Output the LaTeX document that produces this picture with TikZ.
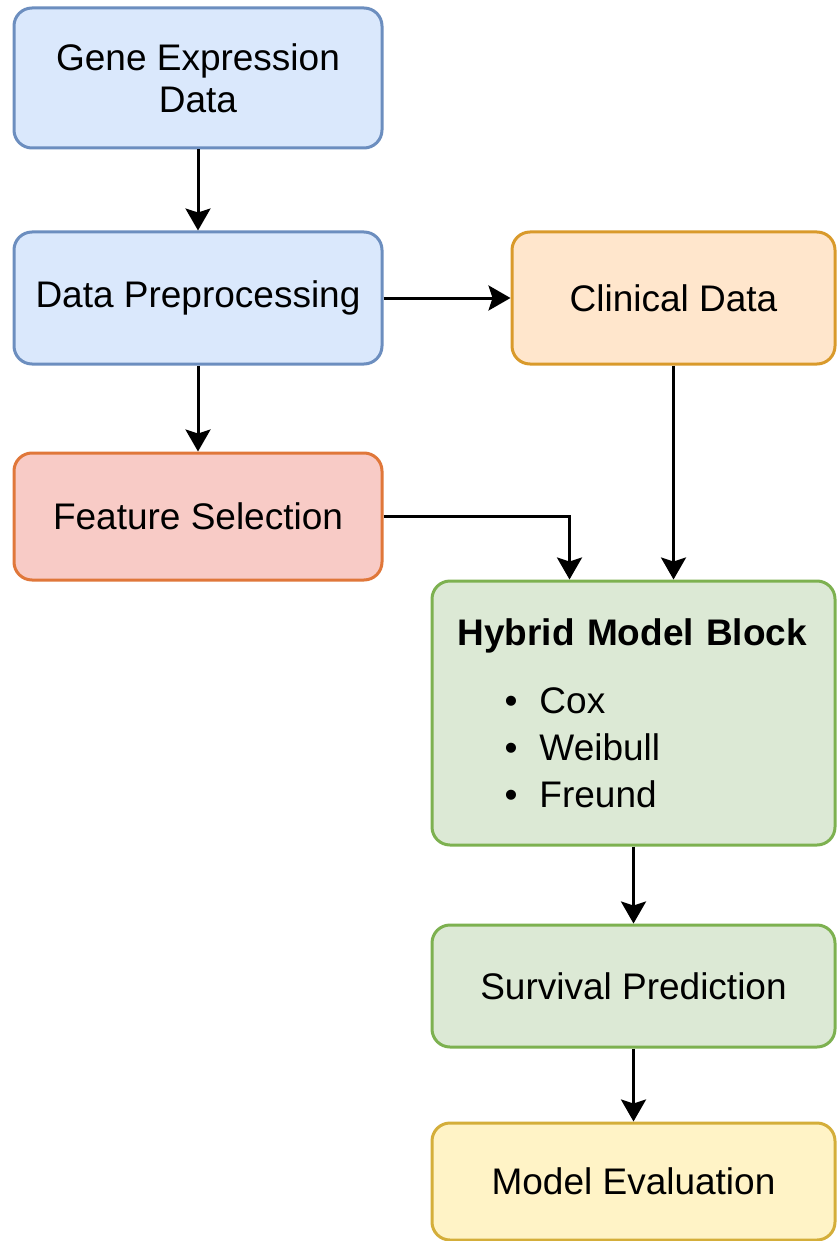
\documentclass[tikz,border=0pt]{standalone}
\usepackage{fontspec}
\setmainfont{Liberation Sans}
\usetikzlibrary{arrows.meta,positioning}
\definecolor{FlowBlue}{HTML}{DAE8FC}
\definecolor{FlowBlueLine}{HTML}{6C8EBF}
\definecolor{FlowOrange}{HTML}{FFE6CC}
\definecolor{FlowOrangeLine}{HTML}{D99A2B}
\definecolor{FlowRed}{HTML}{F8CBC6}
\definecolor{FlowRedLine}{HTML}{E0773A}
\definecolor{FlowGreen}{HTML}{DCE9D5}
\definecolor{FlowGreenLine}{HTML}{7DB150}
\definecolor{FlowYellow}{HTML}{FFF3C6}
\definecolor{FlowYellowLine}{HTML}{D4AE3A}

\begin{document}
\begin{tikzpicture}[font=\fontsize{18.5}{21}\selectfont,
  b/.style={draw,line width=1.5pt,rounded corners=9pt,align=center,inner sep=0pt,minimum width=184pt},
  bluebox/.style={b,draw=FlowBlueLine,fill=FlowBlue},
  orangebox/.style={b,draw=FlowOrangeLine,fill=FlowOrange},
  redbox/.style={b,draw=FlowRedLine,fill=FlowRed},
  greenbox/.style={b,draw=FlowGreenLine,fill=FlowGreen,minimum width=201.5pt},
  yellowbox/.style={b,draw=FlowYellowLine,fill=FlowYellow,minimum width=201.5pt},
  a/.style={-{Stealth[length=11pt,width=12.5pt,inset=2pt]},line width=1.5pt}]
  \useasboundingbox[fill=white] (0,0) rectangle (418pt,-620.5pt);
  \node[bluebox,minimum height=70pt,anchor=north west] (g) at (6.25pt,-3.25pt) {Gene Expression\\Data};
  \node[bluebox,minimum height=66pt,below=40.5pt of g] (dp) {Data Preprocessing};
  \node[redbox,minimum height=63.5pt,below=43pt of dp] (fs) {Feature Selection};
  \node[orangebox,minimum width=161.5pt,minimum height=66pt,right=63.5pt of dp] (cd) {Clinical Data};
  \node[greenbox,minimum height=132pt,text width=176pt,inner xsep=12.75pt,align=left,
    font=\fontsize{18.5}{23.5}\selectfont,below=107pt of cd.south east,anchor=north east] (hm)
    {\textbf{Hybrid Model Block}\\[10.5pt]
     \hspace*{23.5pt}\makebox[17.5pt][l]{\textbullet}Cox\\
     \hspace*{23.5pt}\makebox[17.5pt][l]{\textbullet}Weibull\\
     \hspace*{23.5pt}\makebox[17.5pt][l]{\textbullet}Freund};
  \node[greenbox,minimum height=61pt,below=38.5pt of hm] (sp) {Survival Prediction};
  \node[yellowbox,minimum height=58.5pt,below=36.5pt of sp] (me) {Model Evaluation};
  \draw[a] (g) -- (dp);
  \draw[a] (dp) -- (fs);
  \draw[a] (dp) -- (cd);
  \draw[a] (fs.east) -| ([xshift=69.5pt]hm.north west);
  \draw[a] (cd.south) -- (cd.south |- hm.north);
  \draw[a] (hm) -- (sp);
  \draw[a] (sp) -- (me);
\end{tikzpicture}
\end{document}
